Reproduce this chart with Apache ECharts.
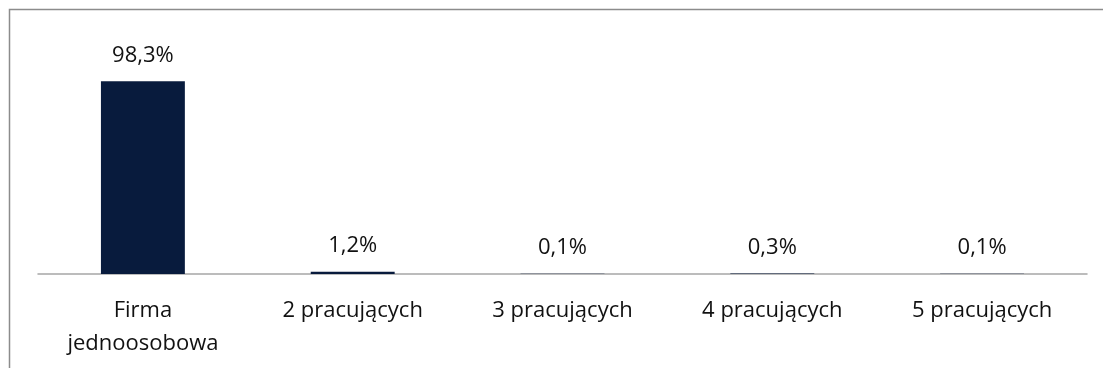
<!DOCTYPE html>
<html>
<head>
<meta charset="utf-8">
<script src="https://cdn.jsdelivr.net/npm/echarts@6/dist/echarts.min.js"></script>
<style>
html,body{margin:0;padding:0;background:#fff;}
#c{width:1103px;height:368px;}
</style>
</head>
<body>
<div id="c"></div>
<script>
const categories = ['Firma\njednoosobowa', '2 pracujących', '3 pracujących', '4 pracujących', '5 pracujących'];
const values = [98.3, 1.2, 0.1, 0.3, 0.1];

const FONT = '"Open Sans", sans-serif';
const chart = echarts.init(document.getElementById('c'), null, {renderer: 'canvas'});
chart.setOption({
  animation: false,
  backgroundColor: '#ffffff',
  graphic: [{
    type: 'rect',
    shape: {x: 9.5, y: 9.5, width: 1200, height: 500},
    style: {fill: 'none', stroke: '#8c8c8c', lineWidth: 1.5},
    silent: true
  }],
  grid: {left: 38, right: 16, top: 78, bottom: 94, containLabel: false},
  xAxis: {
    type: 'category',
    data: categories,
    axisLine: {show: true, lineStyle: {color: '#a6a6a6', width: 1.5}},
    axisTick: {show: false},
    axisLabel: {
      color: '#111111', fontFamily: FONT, fontSize: 22,
      lineHeight: 33, margin: 20, interval: 0
    }
  },
  yAxis: {
    type: 'value', min: 0, max: 100,
    show: false, splitLine: {show: false}
  },
  series: [{
    type: 'bar',
    data: values,
    barWidth: '40%',
    itemStyle: {color: '#081b3d'},
    label: {
      show: true, position: 'top', distance: 15,
      color: '#111111', fontFamily: FONT, fontSize: 22,
      formatter: p => p.value.toFixed(1).replace('.', ',') + '%'
    }
  }]
});
</script>
</body>
</html>
